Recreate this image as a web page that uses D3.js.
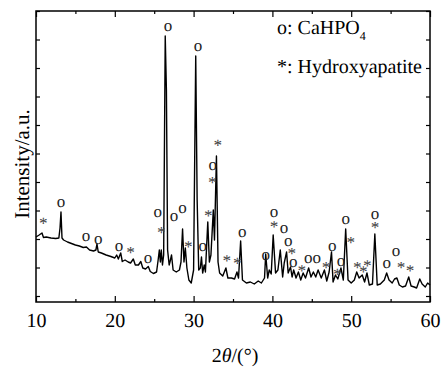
<!DOCTYPE html>
<html>
<head>
<meta charset="utf-8">
<script src="https://cdn.jsdelivr.net/npm/d3@7"></script>
<style>
body { margin: 0; background: #fff; -webkit-font-smoothing: antialiased; }
text { font-family: "Liberation Serif", "Times New Roman", serif; text-rendering: geometricPrecision; }
</style>
</head>
<body>
<script>
var angulos = [10.0, 10.4, 10.76, 10.95, 11.3, 11.9, 12.5, 12.9, 13.05, 13.17, 13.3, 13.5, 14.0, 14.5, 15.0, 15.5, 16.0, 16.4, 16.8, 17.3,
    17.6, 17.74, 17.9, 18.3, 18.9, 19.5, 20.0, 20.24, 20.45, 20.75, 20.95, 21.3, 21.7, 22.0, 22.35, 22.6, 23.0, 23.3, 23.55, 23.9,
    24.25, 24.5, 24.9, 25.3, 25.5, 25.65, 25.78, 25.9, 26.05, 26.2, 26.4, 26.55, 26.7, 26.9, 27.0, 27.2, 27.4, 27.8, 28.2, 28.4,
    28.6, 28.78, 28.95, 29.15, 29.4, 29.7, 30.0, 30.27, 30.45, 30.65, 30.85, 31.0, 31.15, 31.35, 31.5, 31.8, 32.0, 32.2, 32.5, 32.65,
    32.9, 33.1, 33.3, 33.7, 34.1, 34.35, 34.8, 35.2, 35.5, 35.7, 35.97, 36.2, 36.7, 37.2, 37.7, 38.2, 38.6, 39.0, 39.15, 39.4,
    39.6, 39.85, 40.1, 40.4, 40.7, 41.0, 41.3, 41.5, 41.8, 42.0, 42.3, 42.5, 42.7, 43.0, 43.3, 43.6, 43.9, 44.2, 44.6, 44.9,
    45.2, 45.5, 45.8, 46.2, 46.6, 46.9, 47.2, 47.5, 47.7, 48.0, 48.3, 48.7, 49.0, 49.3, 49.6, 50.0, 50.4, 50.7, 51.0, 51.4,
    51.7, 52.0, 52.3, 52.7, 53.0, 53.3, 53.7, 54.2, 54.5, 54.8, 55.2, 55.5, 55.8, 56.1, 56.5, 56.9, 57.3, 57.6, 58.0, 58.3,
    58.7, 59.0, 59.4, 59.7, 60.0]
var intensidades = [650, 670, 690, 645, 650, 640, 635, 640, 740, 900, 640, 620, 600, 585, 570, 560, 545, 550, 520, 510,
    520, 580, 500, 490, 470, 455, 440, 470, 430, 490, 405, 420, 400, 390, 430, 370, 370, 405, 340, 330,
    355, 305, 285, 300, 420, 520, 400, 520, 370, 470, 2660, 2120, 520, 370, 400, 470, 320, 300, 320, 400,
    730, 400, 540, 340, 220, 190, 320, 2460, 1020, 320, 340, 450, 290, 370, 300, 800, 400, 470, 920, 620,
    1460, 400, 290, 260, 340, 240, 240, 230, 300, 240, 610, 220, 190, 200, 180, 210, 190, 240, 480, 240,
    320, 280, 670, 290, 320, 520, 250, 390, 500, 290, 350, 250, 320, 240, 300, 220, 290, 240, 340, 250,
    300, 250, 320, 240, 320, 210, 300, 500, 200, 270, 230, 340, 220, 730, 220, 190, 220, 300, 240, 270,
    200, 290, 170, 180, 680, 170, 180, 220, 290, 220, 190, 230, 240, 170, 150, 160, 250, 160, 150, 140,
    230, 180, 150, 190, 170]

// marcas de fase: CaHPO4 (o) e hidroxiapatita (*)
var marcasCaHPO4Theta = [13.17, 16.35, 17.9, 20.53, 24.2, 25.44, 26.75, 27.5, 28.6, 30.56, 31.15, 32.42, 36.18,
    39.15, 40.2, 41.47, 42.0, 42.65, 44.56, 45.62, 47.6, 48.7, 49.3, 53.02, 54.5, 55.69]
var marcasCaHPO4Altura = [987, 647, 620, 547, 430, 893, 2747, 847, 927, 2553, 547, 1363, 687,
    460, 887, 727, 603, 387, 427, 427, 553, 403, 820, 870, 380, 503]
var marcasHATheta = [10.93, 22.0, 25.9, 29.33, 31.87, 32.38, 33.06, 34.2, 35.55, 40.2, 42.45, 43.72, 46.8,
    48.24, 49.94, 50.78, 51.54, 52.05, 53.02, 56.32, 57.46]
var marcasHAAltura = [813, 520, 720, 577, 887, 1220, 1593, 437, 413, 777, 510, 337, 370,
    303, 620, 370, 327, 387, 770, 370, 337]

var ticksX = [10, 20, 30, 40, 50, 60]
var ticksXMenores = [15, 25, 35, 45, 55]

var width = 443
var height = 367
var margen = { arriba: 11, abajo: 65, izquierda: 36, derecha: 13 }

var escalaX = d3.scaleLinear()
    .domain([10, 60])
    .range([margen.izquierda, width - margen.derecha])

var escalaY = d3.scaleLinear()
    .domain([0, 2910])
    .range([height - margen.abajo, margen.arriba])

var ticksY = d3.range(2910, 0, -285)

var svg = d3.select("body")
    .append("svg")
    .attr("width", width)
    .attr("height", height)
    .style("font-family", "'Liberation Serif', serif")

var x0 = escalaX.range()[0], x1 = escalaX.range()[1]
var y0 = escalaY.range()[0], y1 = escalaY.range()[1]

// ejes con las marcas hacia dentro
function pintarEje(eje, transform, valores, largo) {
    var g = svg.append("g")
        .attr("transform", transform)
        .call(eje.tickValues(valores).tickSizeInner(-largo).tickSizeOuter(0))
    g.attr("font-family", null)
    g.select(".domain").remove()
    g.selectAll("line").attr("stroke", "#000").attr("stroke-width", 1.2)
    return g
}

var gX = pintarEje(d3.axisBottom(escalaX).tickPadding(11), "translate(0," + y0 + ")", ticksX, 6)
gX.selectAll("text")
    .attr("fill", "#000")
    .style("font-size", "20px")
    .style("font-family", "'Liberation Serif', serif")
pintarEje(d3.axisBottom(escalaX).tickFormat(""), "translate(0," + y0 + ")", ticksXMenores, 3)
pintarEje(d3.axisTop(escalaX).tickFormat(""), "translate(0," + y1 + ")", ticksX, 6)
pintarEje(d3.axisTop(escalaX).tickFormat(""), "translate(0," + y1 + ")", ticksXMenores, 3)
pintarEje(d3.axisLeft(escalaY).tickFormat(""), "translate(" + x0 + ",0)", ticksY, 4)
pintarEje(d3.axisRight(escalaY).tickFormat(""), "translate(" + x1 + ",0)", ticksY, 4)

// marco
svg.append("rect")
    .attr("x", x0)
    .attr("y", y1)
    .attr("width", x1 - x0)
    .attr("height", y0 - y1)
    .attr("fill", "none")
    .attr("stroke", "#000")
    .attr("stroke-width", 1.5)

// difractograma
var datos = angulos.map(function (a, i) { return { theta: a, y: intensidades[i] } })
var linea = d3.line()
    .x(function (d) { return escalaX(d.theta) })
    .y(function (d) { return escalaY(d.y) })

svg.append("path")
    .datum(datos)
    .attr("d", linea)
    .attr("fill", "none")
    .attr("stroke", "#000")
    .attr("stroke-width", 1.4)
    .attr("stroke-linejoin", "round")

// etiquetas de picos
var gMarcas = svg.append("g")

gMarcas.selectAll(".marcaO")
    .data(marcasCaHPO4Theta)
    .join("text")
    .attr("class", "marcaO")
    .attr("x", function (d) { return escalaX(d) })
    .attr("y", function (d, i) { return escalaY(marcasCaHPO4Altura[i]) + 4 })
    .attr("text-anchor", "middle")
    .attr("fill", "#222")
    .style("font-size", "17px")
    .text("o")

// asteriscos con un giro minimo para que el suavizado salga en gris
gMarcas.selectAll(".marcaA")
    .data(marcasHATheta)
    .join("text")
    .attr("class", "marcaA")
    .attr("transform", function (d, i) {
        return "translate(" + escalaX(d) + "," + (escalaY(marcasHAAltura[i]) + 8) + ") rotate(0.5)"
    })
    .attr("text-anchor", "middle")
    .attr("fill", "#444")
    .style("font-size", "17px")
    .text("*")

// leyenda
var leyenda = svg.append("g").style("font-size", "20px").attr("fill", "#000")
var l1 = leyenda.append("text").attr("x", 277).attr("y", 34).text("o: CaHPO")
l1.append("tspan").attr("dy", 6).style("font-size", "12px").text("4")
leyenda.append("text").attr("x", 277).attr("y", 73).text("*: Hydroxyapatite")

// titulos de ejes
var tituloX = svg.append("text")
    .attr("x", 235)
    .attr("y", 362)
    .attr("text-anchor", "middle")
    .style("font-size", "20px")
tituloX.append("tspan").text("2")
tituloX.append("tspan").style("font-style", "italic").text("θ")
tituloX.append("tspan").text("/(°)")

svg.append("text")
    .attr("transform", "translate(29,164) rotate(-90)")
    .attr("text-anchor", "middle")
    .style("font-size", "21px")
    .text("Intensity/a.u.")
</script>
</body>
</html>
